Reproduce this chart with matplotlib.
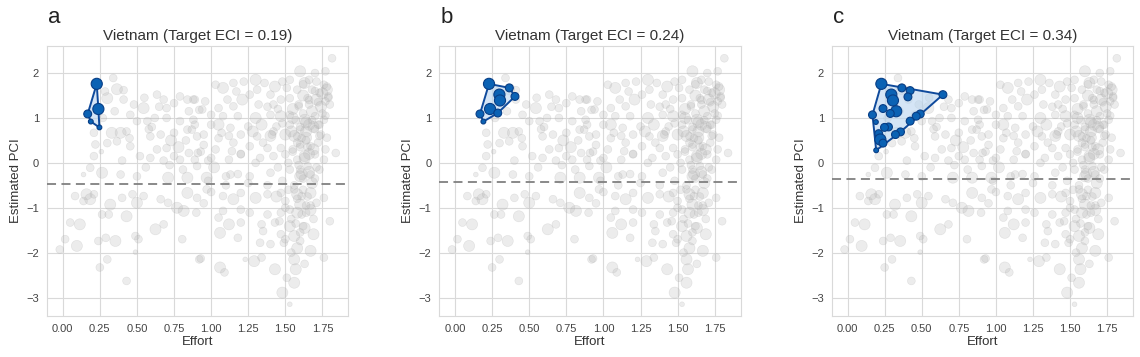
import matplotlib
matplotlib.use("Agg")
import matplotlib.pyplot as plt
import seaborn as sns
import numpy as np

# background products (effort, estimated PCI, size class 1-3)
gray_x = [
    0.34, 0.41, 0.365, 0.30, 0.285, 0.41, 0.455, 0.545, 0.635, 0.68, 0.70, 0.75, 0.79, 0.84, 0.88, 0.88, 0.905,
    0.33, 0.39, 0.43, 0.50, 0.57, 0.62, 0.70, 0.79, 0.59, 0.66, 0.75, 0.84, 0.21, 0.22, 0.21, 0.30, 0.365,
    0.455, 0.52, 0.59, 0.635, 0.70, 0.75, 0.79, 0.85, 0.905, 0.14, 0.185, 0.265, 0.39, 0.50, 0.71, 0.84, 0.81,
    0.27, 0.35, 0.48, 0.55, 0.60, 0.45, 0.26, 0.40, 0.68, 0.56, 0.73, 0.83, 0.92, 0.93,
    # lower left
    0.083, 0.16, 0.14, 0.185, 0.21, 0.32, 0.40, 0.47, 0.50, 0.545, 0.66, 0.71, 0.77, 0.815, 0.84, 0.905,
    0.05, 0.115, 0.265, 0.31, 0.43, 0.625, 0.68, 0.805, 0.016, 0.095, 0.24, 0.29, 0.355, 0.49, 0.51,
    -0.02, 0.30, 0.25, 0.49, 0.43, 0.92,
    # upper right
    1.815, 1.60, 1.70, 1.77, 1.53, 1.30, 1.22, 1.15, 1.03, 1.08, 1.17, 1.36, 1.43, 1.48, 1.63, 1.71, 1.76,
    1.78, 1.73, 1.79, 1.68, 1.58, 1.51, 1.31, 1.26, 1.40, 0.89, 0.96, 1.11, 1.21, 1.47, 1.53, 1.65, 1.71,
    1.77, 1.80, 1.66, 1.59, 1.42, 1.32, 1.15, 1.05, 0.94, 1.00, 1.08, 1.18, 1.30, 1.40, 1.47, 1.53, 1.63,
    1.70, 1.76, 1.72, 1.66, 1.60, 1.53, 1.44, 1.34, 1.25, 1.13, 1.00, 0.89, 0.87, 0.95, 1.07, 1.20, 1.31,
    1.41, 1.50, 1.58, 1.64, 1.74, 1.78, 1.67, 1.60, 1.55, 1.47, 1.38, 1.26, 1.14, 1.03, 0.91, 0.89, 1.00,
    1.12, 1.20, 1.33, 1.42, 1.50, 1.58, 1.63, 1.70, 1.77, 1.84, 1.76, 1.65, 1.53, 1.40, 1.26, 1.13, 0.97,
    1.60, 1.67, 1.73,
    # lower right
    0.97, 1.08, 1.15, 1.20, 1.30, 1.38, 1.47, 1.56, 1.61, 1.67, 1.76, 1.71, 1.60, 1.53, 1.58, 1.64, 1.47,
    1.38, 1.26, 1.20, 1.08, 0.90, 1.05, 1.12, 1.20, 1.34, 1.43, 1.53, 1.62, 1.69, 1.80, 1.06, 1.18, 1.35,
    1.47, 1.56, 1.60, 1.33, 1.40, 1.49, 1.67, 0.93, 1.23, 1.29, 1.34, 1.43, 1.56, 1.57, 1.06, 1.09, 1.51,
    1.56, 1.48, 1.53, 1.76,
    # dense cluster
    1.55, 1.62, 1.68, 1.72, 1.75, 1.78, 1.70, 1.64, 1.58, 1.66, 1.72, 1.52, 1.60, 1.68, 1.56, 1.62, 1.50,
    1.58, 1.64, 1.54, 1.60, 1.50, 1.45, 1.38, 1.48, 1.40, 1.35, 1.30, 1.45, 1.38, 1.25, 1.10, 1.15, 1.05,
    0.98, 1.02, 0.95, 1.00, 1.18,
    1.62, 1.66, 1.70, 1.74, 1.68, 1.64, 1.60, 1.57, 1.54, 1.61, 1.65, 1.69, 1.73, 1.77, 1.63, 1.59, 1.55,
    1.66, 1.70, 1.62, 1.58, 1.65, 1.71, 1.67, 1.61, 1.57, 1.63, 1.69, 1.52, 1.48, 1.44, 1.50, 1.46, 1.42,
    1.56, 1.60, 1.64, 1.59, 1.55, 1.62, 1.66, 1.58, 1.54, 1.63, 1.67, 1.61, 1.75, 1.79, 1.73, 1.69,
    # middle band
    0.95, 1.05, 1.12, 0.85, 0.78, 0.65, 0.58, 1.20, 1.28, 0.72, 0.98, 1.10,
]
gray_y = [
    1.89, 1.62, 1.64, 1.44, 1.59, 1.41, 1.07, 1.22, 1.52, 1.41, 1.22, 1.33, 1.48, 1.41, 1.41, 0.96, 0.59,
    0.67, 0.67, 0.70, 0.93, 0.93, 1.00, 1.00, 0.93, 0.59, 0.63, 0.67, 0.74, 0.67, 0.41, 0.15, 0.44, 0.48,
    0.37, 0.15, 0.11, 0.30, 0.33, 0.15, 0.07, 0.22, -0.07, -0.26, -0.11, -0.22, -0.26, -0.30, -0.33, -0.33, -0.15,
    1.00, 1.15, 1.30, 1.45, 0.80, 0.55, 0.25, 0.05, 0.05, -0.10, 0.50, 0.50, 1.18, 0.25,
    # lower left
    -0.74, -0.70, -0.85, -0.81, -0.70, -0.93, -0.78, -0.70, -0.89, -0.74, -0.81, -0.89, -1.00, -1.07, -0.67, -0.78,
    -1.33, -1.37, -1.15, -1.15, -1.19, -1.48, -1.37, -1.70, -1.70, -1.85, -1.74, -1.67, -1.74, -1.63, -1.70,
    -1.93, -2.15, -2.33, -1.99, -2.63, -2.15,
    # upper right
    2.33, 2.04, 2.00, 2.04, 1.85, 1.85, 1.81, 1.78, 1.74, 1.67, 1.59, 1.78, 1.70, 1.81, 1.78, 1.81, 1.74,
    1.63, 1.56, 1.48, 1.63, 1.63, 1.67, 1.63, 1.52, 1.52, 1.41, 1.37, 1.41, 1.41, 1.41, 1.44, 1.44, 1.41,
    1.37, 1.30, 1.30, 1.26, 1.30, 1.30, 1.26, 1.22, 1.19, 1.07, 1.04, 1.04, 1.00, 1.07, 1.04, 1.07, 0.96,
    1.04, 0.96, 0.85, 0.85, 0.74, 0.85, 0.81, 0.85, 0.81, 0.78, 0.85, 0.85, 0.74, 0.63, 0.67, 0.63, 0.59,
    0.63, 0.63, 0.59, 0.56, 0.63, 0.56, 0.37, 0.41, 0.30, 0.33, 0.33, 0.37, 0.26, 0.30, 0.22, 0.07, 0.11,
    0.07, 0.19, 0.11, 0.15, 0.19, 0.07, 0.15, 0.19, 0.30, 0.22, 0.07, -0.07, -0.15, -0.22, -0.30, -0.26, -0.33,
    -0.30, -0.26, -0.15,
    # lower right
    -0.59, -0.74, -0.81, -0.67, -0.78, -0.70, -0.67, -0.59, -0.74, -0.67, -0.78, -0.89, -0.93, -1.04, -1.11, -1.11, -1.11,
    -1.15, -1.11, -1.04, -1.07, -1.11, -1.22, -1.37, -1.33, -1.37, -1.33, -1.41, -1.41, -1.59, -1.30, -1.56, -1.67, -1.52,
    -1.59, -1.63, -1.74, -1.78, -1.81, -1.78, -1.96, -2.13, -2.15, -2.19, -2.11, -2.37, -2.15, -2.37, -2.33, -2.44, -2.56,
    -2.67, -2.89, -3.15, -2.11,
    # dense cluster
    1.20, 1.10, 1.15, 1.35, 1.55, 1.70, 0.75, 0.70, 0.45, 0.20, 0.45, 0.00, -0.15, -0.45, -0.50, -0.60, -0.85,
    -0.80, -0.95, -1.25, -1.55, -1.70, 1.20, 1.25, 0.88, 0.60, 0.45, 0.00, -0.10, -0.50, -0.45, -0.50, 0.45, 0.55,
    0.05, -0.10, -0.90, -0.65, -0.25,
    1.50, 1.40, 1.60, 1.25, 0.95, 0.90, 0.80, 0.95, 0.70, 0.55, 0.35, 0.80, 0.60, 1.05, 0.10, -0.05, 0.25,
    -0.20, -0.35, -0.35, -0.70, -0.75, -0.10, -1.05, -1.15, -1.35, -1.45, -1.25, -0.60, -0.40, -0.75, -1.00, -1.30, 0.70,
    0.60, 0.35, 0.50, 1.30, 1.00, 1.75, 1.85, -1.90, -2.00, -2.25, -0.95, -0.25, 1.10, 1.45, 0.85, 0.30,
    # middle band
    0.40, 0.85, 0.60, 1.15, 0.35, 1.25, 0.75, 0.20, 0.70, -0.05, -0.40, -0.30,
]
gray_s = [
    2, 2, 3, 3, 2, 2, 2, 3, 2, 2, 2, 2, 2, 2, 2, 2, 2,
    3, 3, 2, 2, 2, 2, 2, 2, 2, 2, 2, 2, 2, 2, 2, 2, 2,
    2, 2, 2, 2, 2, 2, 2, 2, 2, 1, 2, 3, 2, 2, 3, 3, 2,
    2, 2, 2, 2, 2, 2, 1, 2, 2, 2, 3, 2, 2, 2,
    # lower left
    2, 3, 2, 3, 2, 3, 2, 2, 3, 2, 2, 2, 3, 3, 3, 2,
    2, 3, 2, 2, 3, 3, 2, 2, 2, 3, 2, 2, 3, 2, 2,
    2, 2, 2, 1, 2, 2,
    # upper right
    2, 3, 2, 2, 2, 3, 2, 2, 2, 3, 2, 2, 3, 2, 3, 2, 2,
    3, 2, 2, 2, 2, 2, 2, 2, 2, 2, 2, 2, 3, 2, 2, 2, 3,
    2, 2, 2, 2, 2, 2, 2, 2, 2, 2, 2, 2, 3, 2, 3, 2, 3,
    2, 2, 2, 3, 2, 2, 2, 3, 2, 2, 2, 2, 2, 2, 2, 2, 2,
    2, 3, 2, 3, 2, 2, 2, 2, 2, 2, 2, 2, 2, 2, 2, 2, 2,
    2, 2, 2, 2, 2, 2, 3, 2, 2, 2, 2, 2, 2, 2, 2, 2, 3,
    3, 2, 2,
    # lower right
    2, 2, 3, 2, 3, 2, 2, 2, 2, 3, 2, 2, 3, 2, 3, 2, 2,
    2, 2, 2, 2, 2, 2, 3, 2, 2, 2, 3, 2, 3, 2, 3, 2, 2,
    2, 3, 2, 2, 2, 2, 3, 2, 1, 3, 2, 3, 3, 3, 3, 2, 2,
    3, 3, 1, 2,
    # dense cluster
    3, 2, 3, 2, 3, 2, 2, 3, 2, 3, 2, 2, 2, 3, 2, 2, 2,
    2, 2, 2, 2, 2, 2, 2, 2, 3, 2, 2, 2, 2, 2, 2, 2, 2,
    2, 3, 2, 2, 2,
    3, 2, 2, 3, 2, 3, 2, 2, 3, 2, 2, 3, 2, 2, 3, 2, 2,
    3, 2, 2, 3, 2, 2, 3, 2, 2, 3, 2, 2, 2, 3, 2, 2, 2,
    3, 2, 2, 2, 3, 2, 2, 3, 2, 2, 2, 3, 2, 2, 2, 3,
    # middle band
    2, 3, 2, 2, 3, 2, 2, 2, 3, 2, 2, 2,
]

# highlighted Vietnam products per panel
titles = ["Vietnam (Target ECI = 0.19)", "Vietnam (Target ECI = 0.24)", "Vietnam (Target ECI = 0.34)"]
letters = ["a", "b", "c"]
target_line = [-0.47, -0.42, -0.36]

blue_x = [
    [0.229, 0.240, 0.168, 0.189, 0.247],
    [0.229, 0.366, 0.404, 0.299, 0.303, 0.236, 0.288, 0.168, 0.191],
    [0.228, 0.366, 0.422, 0.407, 0.643, 0.295, 0.306, 0.239, 0.328, 0.288, 0.168, 0.490,
     0.463, 0.422, 0.191, 0.276, 0.249, 0.357, 0.323, 0.210, 0.221, 0.239, 0.193],
]
blue_y = [
    [1.76, 1.20, 1.09, 0.92, 0.79],
    [1.76, 1.67, 1.48, 1.52, 1.39, 1.20, 1.11, 1.09, 0.92],
    [1.76, 1.67, 1.61, 1.47, 1.52, 1.52, 1.39, 1.21, 1.15, 1.10, 1.07, 1.09,
     1.04, 0.93, 0.91, 0.80, 0.79, 0.69, 0.63, 0.65, 0.52, 0.44, 0.28],
]
blue_s = [
    [3, 3, 2, 1, 1],
    [3, 2, 2, 3, 3, 3, 2, 2, 1],
    [3, 2, 2, 2, 2, 3, 3, 2, 3, 2, 2, 2,
     2, 2, 1, 2, 2, 2, 2, 2, 3, 2, 1],
]


def convex_hull(pts):
    pts = sorted(set(pts))
    def cross(o, a, b):
        return (a[0] - o[0]) * (b[1] - o[1]) - (a[1] - o[1]) * (b[0] - o[0])
    lower, upper = [], []
    for p in pts:
        while len(lower) >= 2 and cross(lower[-2], lower[-1], p) <= 0:
            lower.pop()
        lower.append(p)
    for p in reversed(pts):
        while len(upper) >= 2 and cross(upper[-2], upper[-1], p) <= 0:
            upper.pop()
        upper.append(p)
    return lower[:-1] + upper[:-1]


sns.set_style("whitegrid", {"grid.color": "#d9d9d9", "axes.edgecolor": "#d9d9d9"})
plt.rcParams['font.family'] = ['Liberation Sans', 'DejaVu Sans']

size_map = {1: 12, 2: 32, 3: 64}
gsizes = [size_map[s] for s in gray_s]

fig = plt.figure(figsize=(11.4, 3.57), dpi=100)
lefts = [0.041, 0.3851, 0.7294]

for i in range(3):
    ax = fig.add_axes([lefts[i], 0.115, 0.2646, 0.757])
    ax.scatter(gray_x, gray_y, s=gsizes, color='#b4b4b4', alpha=0.25,
               edgecolors='#a0a0a0', linewidths=0.4, zorder=2)
    ax.axhline(target_line[i], color='#808080', ls=(0, (5, 3)), lw=1.3, zorder=3)

    hull = convex_hull(list(zip(blue_x[i], blue_y[i])))
    poly = plt.Polygon(hull, closed=True, facecolor='#b9d5f0', edgecolor='none',
                       alpha=0.6, zorder=4)
    ax.add_patch(poly)
    edge = plt.Polygon(hull, closed=True, fill=False, edgecolor='#0f4a9c', lw=1.4, zorder=4)
    ax.add_patch(edge)
    ax.scatter(blue_x[i], blue_y[i], s=[size_map[s] for s in blue_s[i]],
               color='#0b62b4', edgecolors='#083e86', linewidths=0.8, zorder=5)

    ax.set_xlim(-0.108, 1.925)
    ax.set_ylim(-3.41, 2.61)
    ax.set_xticks(np.arange(0, 1.76, 0.25))
    ax.set_xticklabels(['%.2f' % v for v in np.arange(0, 1.76, 0.25)])
    ax.set_yticks([-3, -2, -1, 0, 1, 2])
    ax.set_yticklabels(['\u22123', '\u22122', '\u22121', '0', '1', '2'])
    ax.tick_params(labelsize=8, colors='#444444', pad=2)
    ax.set_xlabel('Effort', fontsize=9.5, color='#333333', labelpad=2)
    ax.set_ylabel('Estimated PCI', fontsize=9.5, color='#333333', labelpad=3)
    ax.set_title(titles[i], fontsize=11, color='#333333', pad=4)
    for sp in ax.spines.values():
        sp.set_color('#d9d9d9')
    fig.text(lefts[i] + 0.001, 0.952, letters[i], fontsize=16, color='#222222', va='center', ha='left')

fig.savefig('out.png', dpi=100)
